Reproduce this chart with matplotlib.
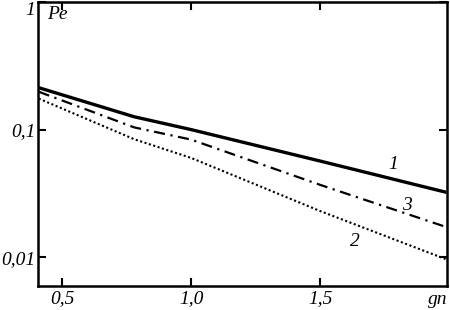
import numpy as np
import matplotlib
matplotlib.use('Agg')
import matplotlib.pyplot as plt
from matplotlib.ticker import FixedLocator, NullLocator

# values (log scale on Pe)
gn = [0.41, 0.78, 1.0, 1.5, 1.99]
pe_1 = [0.213, 0.126, 0.100, 0.0567, 0.0322]
pe_3 = [0.198, 0.104, 0.0835, 0.0369, 0.0172]
pe_2 = [0.175, 0.084, 0.060, 0.023, 0.0096]

x_ticks = [0.5, 1.0, 1.5]
x_labels = ['0,5', '1,0', '1,5']
y_ticks = [0.01, 0.1, 1.0]
y_labels = ['0,01', '0,1', '1']

# curve number labels: (text, gn, Pe)
curve_tags = [('1', 1.783, 0.0533), ('3', 1.837, 0.0255), ('2', 1.636, 0.0133)]

font = dict(family='Liberation Serif', style='italic', size=14)

fig = plt.figure(figsize=(4.5, 3.1), dpi=100)
ax = fig.add_axes([0.0844, 0.0774, 0.9089, 0.9161])

ax.plot(gn, pe_1, color='black', lw=2.4, solid_capstyle='butt')
ax.plot(gn, pe_3, color='black', lw=1.6, dashes=(5, 2.5, 1, 2.5))
ax.plot(gn, pe_2, color='black', lw=1.5, dashes=(1, 1.2))

ax.set_yscale('log')
ax.set_xlim(0.407, 1.992)
ax.set_ylim(0.00594, 1.0)

ax.xaxis.set_major_locator(FixedLocator(x_ticks))
ax.xaxis.set_minor_locator(NullLocator())
ax.yaxis.set_major_locator(FixedLocator(y_ticks))
ax.yaxis.set_minor_locator(NullLocator())
ax.set_xticklabels(x_labels, fontdict=font)
ax.set_yticklabels(y_labels, fontdict=font)
# the top label "1" sits just below the frame's top edge
ax.get_yticklabels()[-1].set_va('top')

ax.tick_params(direction='in', length=6, width=1.5, top=True, right=True)
ax.tick_params(axis='y', pad=2)
ax.tick_params(axis='x', pad=3)
for s in ax.spines.values():
    s.set_linewidth(1.8)

for t, x, y in curve_tags:
    ax.text(x, y, t, ha='center', va='center', **font)

ax.text(0.022, 0.985, 'Pe', transform=ax.transAxes, ha='left', va='top', **font)
fig.text(0.995, 0.005, 'gn', ha='right', va='bottom', **font)

fig.savefig('out.png', dpi=100)
